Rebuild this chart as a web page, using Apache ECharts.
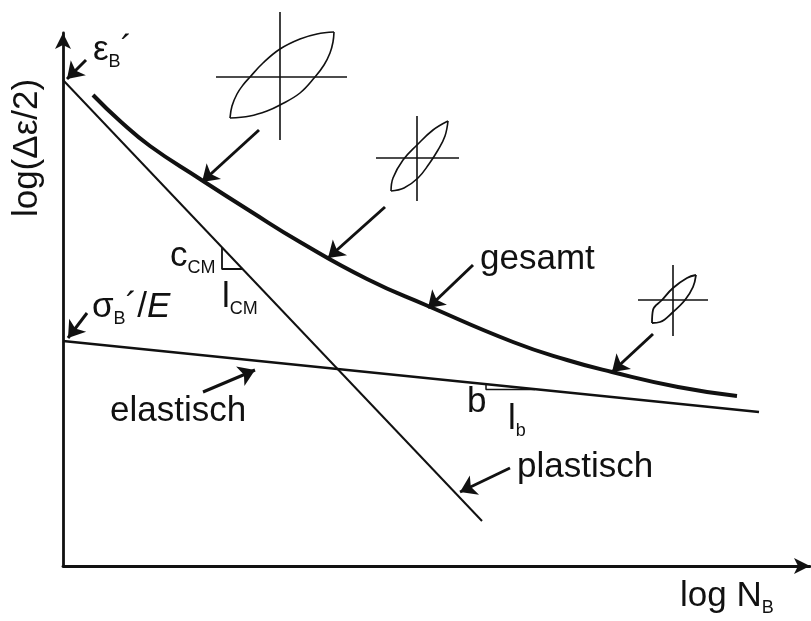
<!DOCTYPE html>
<html>
<head>
<meta charset="utf-8">
<script src="https://cdn.jsdelivr.net/npm/echarts@6/dist/echarts.min.js"></script>
<style>
  html, body { margin: 0; padding: 0; background: #fff; }
  #chart { width: 811px; height: 621px; }
</style>
</head>
<body>
<div id="chart"></div>
<script>
// Strain–life diagram (log Δε/2 over log N_B), schematic units along both axes.

// Straight components
const plasticLine = [[0, 486], [419, 45]];
const elasticLine = [[0, 225], [696, 154]];

// Total strain amplitude curve
const totalCurve = [
  [30, 471], [57, 445], [87, 420], [137, 387], [187, 355], [237, 324],
  [304, 287], [365, 260], [450, 224], [504, 206], [549, 194], [615, 179], [674, 170]
];

// Slope triangles
const slopeTriangleCM = [[159, 319], [159, 297], [180, 297]];
const slopeTriangleB = [[423, 182], [423, 176.5], [472, 176.5]];

// Hysteresis loops: upper / lower branch and the crosshair
const loopLargeUpper = [[167, 448], [169, 460], [174, 472], [180, 481], [187, 489], [200, 503], [217, 517], [237, 527], [254, 532], [271, 534]];
const loopLargeLower = [[167, 448], [187, 450], [204, 455], [217, 461], [237, 473], [252, 489], [261, 501], [267, 513], [270, 524], [271, 534]];
const crossLargeV = [[217, 426], [217, 554]];
const crossLargeH = [[153, 489], [284, 489]];

const loopMidUpper = [[328, 375], [330, 388], [340, 406], [354, 421], [370, 436], [385, 445]];
const loopMidLower = [[328, 375], [341, 378], [355, 388], [366, 402], [375, 416], [382, 430], [385, 445]];
const crossMidV = [[354, 365], [354, 450]];
const crossMidH = [[313, 408], [396, 408]];

const loopSmallUpper = [[589, 243], [590, 256], [599, 266], [610, 278], [624, 288], [633, 291]];
const loopSmallLower = [[589, 243], [597, 244], [610, 254], [622, 266], [630, 279], [633, 291]];
const crossSmallV = [[610, 230], [610, 301]];
const crossSmallH = [[575, 266], [645, 266]];

// Pointer arrows [from, to]
const pointerArrows = [
  [[23, 506], [4, 487]],     // ε_B'
  [[24, 253], [5, 228]],     // σ_B'/E
  [[140, 174], [192, 196]],  // elastisch
  [[447, 98], [397, 74]],    // plastisch
  [[410, 301], [365, 258]],  // gesamt
  [[196, 436], [139, 384]],  // large loop
  [[322, 359], [265, 308]],  // mid loop
  [[590, 232], [549, 194]]   // small loop
];

// Text labels: position, rich text, rotation
const labelPoints = [[30, 516], [29, 259], [107, 310], [159, 269], [47, 155], [404, 164], [445, 147], [454, 99], [417, 307], [617, -30], [-36, 418]];
const labelTexts = [
  '{m|ε}{s|B}{m|´}',
  '{m|σ}{s|B}{m|´/}{i|E}',
  '{m|c}{s|CM}',
  '{m|l}{s|CM}',
  '{m|elastisch}',
  '{m|b}',
  '{m|l}{s|b}',
  '{m|plastisch}',
  '{m|gesamt}',
  '{m|log N}{s|B}',
  '{m|log(Δε/2)}'
];
const labelRotations = [0, 0, 0, 0, 0, 0, 0, 0, 0, 0, 90];

const INK = '#111';
const FONT = "'Liberation Sans', Arial, sans-serif";

function lineSeries(data, width, smooth) {
  return {
    type: 'line', data: data, symbol: 'none', clip: false,
    smooth: smooth || false, silent: true,
    lineStyle: { color: INK, width: width, cap: 'butt', opacity: 1 }
  };
}

const series = [
  lineSeries(plasticLine, 2),
  lineSeries(elasticLine, 2.5),
  lineSeries(totalCurve, 4, 0.5),
  lineSeries(slopeTriangleCM, 1.8),
  lineSeries(slopeTriangleB, 1.5),
  lineSeries(loopLargeUpper, 1.6, 0.4),
  lineSeries(loopLargeLower, 1.6, 0.4),
  lineSeries(crossLargeV, 1.6),
  lineSeries(crossLargeH, 1.6),
  lineSeries(loopMidUpper, 1.6, 0.4),
  lineSeries(loopMidLower, 1.6, 0.4),
  lineSeries(crossMidV, 1.6),
  lineSeries(crossMidH, 1.6),
  lineSeries(loopSmallUpper, 1.8, 0.4),
  lineSeries(loopSmallLower, 1.8, 0.4),
  lineSeries(crossSmallV, 1.6),
  lineSeries(crossSmallH, 1.6),
  {
    type: 'lines', coordinateSystem: 'cartesian2d', clip: false, silent: true,
    symbol: ['none', 'arrow'], symbolSize: [12, 16],
    lineStyle: { color: INK, width: 3, opacity: 1 },
    data: pointerArrows.map(function (c) { return { coords: c }; })
  },
  {
    type: 'scatter', symbolSize: 0, clip: false, silent: true,
    itemStyle: { opacity: 1 },
    data: labelPoints.map(function (p, i) {
      return {
        value: p,
        label: {
          formatter: labelTexts[i],
          rotate: labelRotations[i],
          align: labelRotations[i] ? 'center' : 'left'
        }
      };
    }),
    label: {
      show: true, position: [0, 0], verticalAlign: 'middle', color: INK,
      opacity: 1, fontFamily: FONT,
      rich: {
        m: { fontSize: 35, lineHeight: 42, color: INK, fontFamily: FONT },
        i: { fontSize: 35, lineHeight: 42, color: INK, fontFamily: FONT, fontStyle: 'italic' },
        s: { fontSize: 18, lineHeight: 18, verticalAlign: 'bottom', color: INK, fontFamily: FONT }
      }
    }
  }
];

const chart = echarts.init(document.getElementById('chart'), null, { renderer: 'canvas' });
chart.setOption({
  animation: false,
  backgroundColor: '#fff',
  grid: { left: 63, right: 1, top: 33, bottom: 55 },
  xAxis: {
    type: 'value', min: 0, max: 747,
    axisLine: { show: true, onZero: false, symbol: ['none', 'arrow'], symbolSize: [12, 16], lineStyle: { color: INK, width: 2.8 } },
    axisTick: { show: false }, axisLabel: { show: false }, splitLine: { show: false }
  },
  yAxis: {
    type: 'value', min: 0, max: 533,
    axisLine: { show: true, onZero: false, symbol: ['none', 'arrow'], symbolSize: [12, 16], lineStyle: { color: INK, width: 2.8 } },
    axisTick: { show: false }, axisLabel: { show: false }, splitLine: { show: false }
  },
  series: series
});
</script>
</body>
</html>
